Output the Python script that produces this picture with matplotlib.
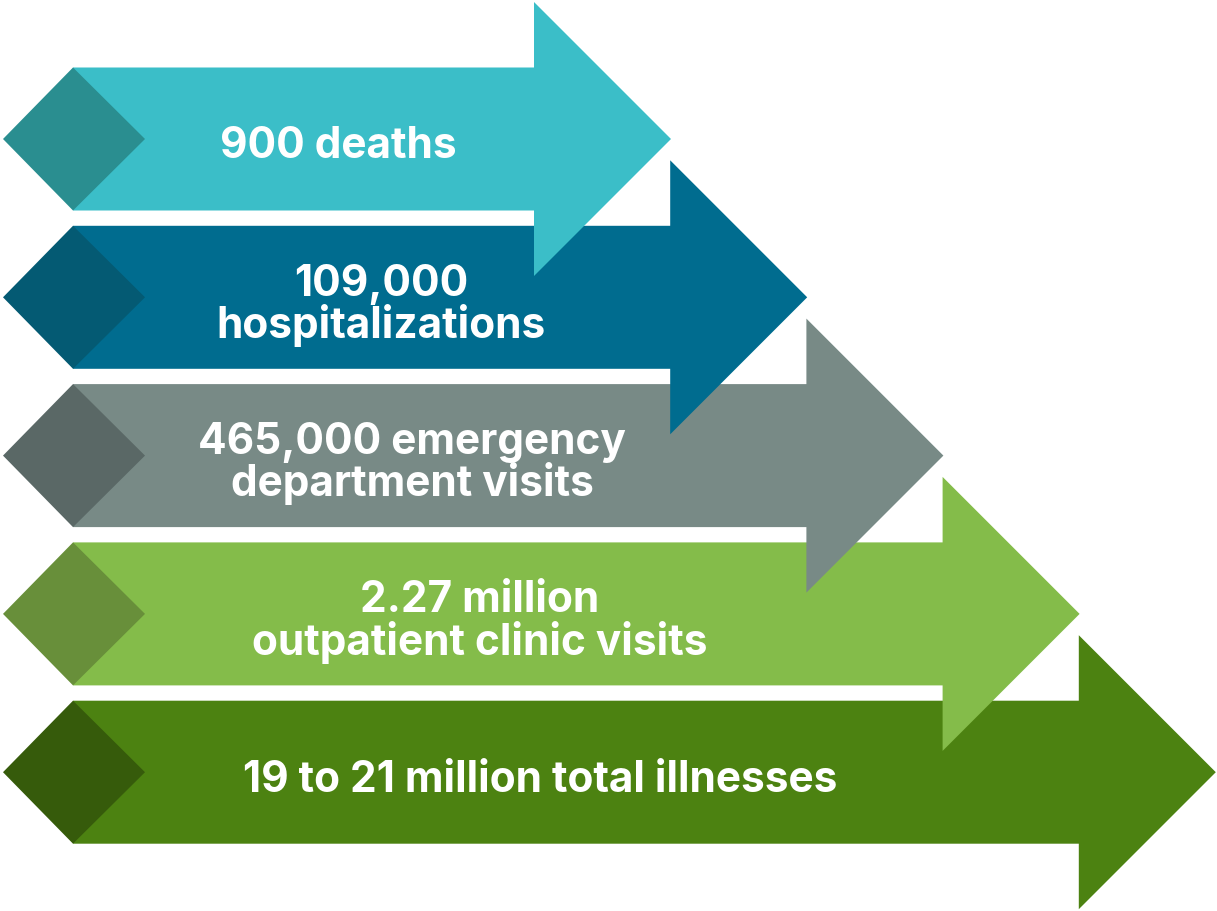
import matplotlib.pyplot as plt
from matplotlib.patches import Polygon

# burden figures, smallest at top
labels = [
    "900 deaths",
    "109,000\nhospitalizations",
    "465,000 emergency\ndepartment visits",
    "2.27 million\noutpatient clinic visits",
    "19 to 21 million total illnesses",
]
body_colors = ["#3bbec8", "#006c8f", "#788a86", "#84bc4a", "#4c8211"]
diamond_colors = ["#2a8e90", "#045a73", "#5a6866", "#688f3a", "#365b0b"]
text_x = [338, 381, 412, 480, 540]

fig = plt.figure(figsize=(12.17, 9.12), dpi=100)
ax = fig.add_axes([0, 0, 1, 1])
ax.set_xlim(0, 1217)
ax.set_ylim(912, 0)
ax.axis("off")

row_gap = 158.3
first_y = 140
body_half = 71.5
body_left = 73
head_start0 = 534
head_step = 136.2
head_half = 137
head_len = 137
dia_half_w = 71

n = len(labels)
for i, lab in enumerate(labels):
    cy = first_y + i * row_gap
    hx = head_start0 + i * head_step
    z = 10 * (n - i)
    arrow = [
        (body_left, cy - body_half), (hx, cy - body_half), (hx, cy - head_half),
        (hx + head_len, cy), (hx, cy + head_half), (hx, cy + body_half),
        (body_left, cy + body_half),
    ]
    ax.add_patch(Polygon(arrow, closed=True, fc=body_colors[i], ec="none", zorder=z))
    diamond = [
        (body_left - dia_half_w + 1, cy), (body_left, cy - body_half),
        (body_left + dia_half_w + 1, cy), (body_left, cy + body_half),
    ]
    ax.add_patch(Polygon(diamond, closed=True, fc=diamond_colors[i], ec="none", zorder=z + 1))
    ax.text(text_x[i], cy + 7, lab, ha="center", va="center", color="white",
            fontsize=30.5, fontweight="bold", family="Inter", linespacing=0.98,
            zorder=z + 2)

fig.savefig("out.png", dpi=100)
